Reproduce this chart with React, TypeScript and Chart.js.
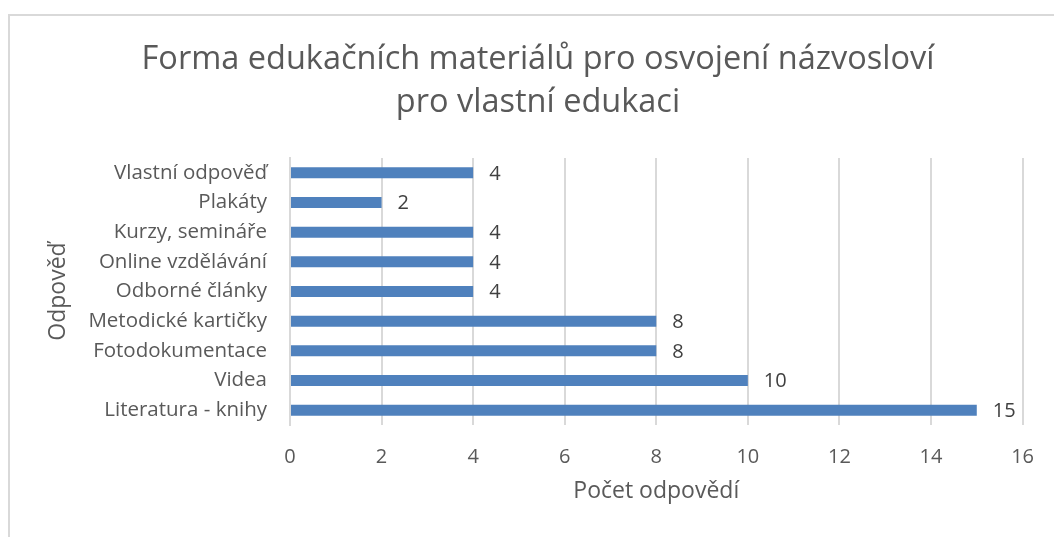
import React, { useEffect, useRef } from "react";
import { Chart, registerables } from "chart.js";

Chart.register(...registerables);

const titleLines = ["Forma edukačních materiálů pro osvojení názvosloví", "pro vlastní edukaci"];
const categories = [
  "Vlastní odpověď",
  "Plakáty",
  "Kurzy, semináře",
  "Online vzdělávání",
  "Odborné články",
  "Metodické kartičky",
  "Fotodokumentace",
  "Videa",
  "Literatura - knihy",
];
const counts = [4, 2, 4, 4, 4, 8, 8, 10, 15];
const xAxisTitle = "Počet odpovědí";
const yAxisTitle = "Odpověď";

const FONT = "'Open Sans', Lato, sans-serif";
const TEXT = "#595959";

const framePlugin = {
  id: "frame",
  beforeDraw(chart: any) {
    const ctx = chart.ctx;
    ctx.save();
    ctx.fillStyle = "#ffffff";
    ctx.fillRect(0, 0, chart.width, chart.height);
    ctx.strokeStyle = "#d9d9d9";
    ctx.lineWidth = 2;
    ctx.strokeRect(9, 15, chart.width + 20, chart.height + 20);
    ctx.restore();
  },
};

const valueLabelPlugin = {
  id: "valueLabels",
  afterDatasetsDraw(chart: any) {
    const ctx = chart.ctx;
    const meta = chart.getDatasetMeta(0);
    ctx.save();
    ctx.font = `20px ${FONT}`;
    ctx.fillStyle = "#404040";
    ctx.textAlign = "left";
    ctx.textBaseline = "middle";
    meta.data.forEach((bar: any, i: number) => {
      ctx.fillText(String(counts[i]), bar.x + 16, bar.y + 1);
    });
    ctx.restore();
  },
};

export default function App() {
  const ref = useRef<HTMLCanvasElement | null>(null);
  useEffect(() => {
    if (!ref.current) return;
    const chart = new Chart(ref.current, {
      type: "bar",
      data: {
        labels: categories,
        datasets: [
          {
            data: counts,
            backgroundColor: "#4f81bd",
            categoryPercentage: 1,
            barPercentage: 0.37,
          },
        ],
      },
      options: {
        indexAxis: "y",
        responsive: false,
        animation: false,
        layout: { padding: { left: 50, right: 28, top: 0, bottom: 0 } },
        plugins: {
          legend: { display: false },
          tooltip: { enabled: false },
          title: {
            display: true,
            text: titleLines,
            color: TEXT,
            font: { family: FONT, size: 32.5, weight: "normal", lineHeight: 1.323 },
            padding: { top: 38, bottom: 34 },
          },
        },
        scales: {
          x: {
            min: 0,
            max: 16,
            ticks: { stepSize: 2, color: TEXT, font: { family: FONT, size: 20 }, padding: 20 },
            grid: { color: "#d9d9d9", lineWidth: 2, drawTicks: false },
            border: { display: false },
            title: {
              display: true,
              text: xAxisTitle,
              color: TEXT,
              font: { family: FONT, size: 23 },
              padding: { top: 0, bottom: 32 },
            },
            afterFit(scale: any) {
              scale.height = 112;
            },
          },
          y: {
            ticks: { color: TEXT, font: { family: FONT, size: 20.5 }, padding: 23 },
            grid: { display: false, drawTicks: false },
            border: { display: true, color: "#d9d9d9", width: 2 },
            title: {
              display: true,
              text: yAxisTitle,
              color: TEXT,
              font: { family: FONT, size: 23 },
              padding: { top: -5, bottom: 0 },
            },
            afterFit(scale: any) {
              scale.width = 240;
            },
          },
        },
      },
      plugins: [framePlugin, valueLabelPlugin],
    });
    return () => chart.destroy();
  }, []);
  return (
    <div style={{ position: "fixed", left: 0, top: 0, width: 1054, height: 537 }}>
      <canvas ref={ref} width={1054} height={537} />
    </div>
  );
}
